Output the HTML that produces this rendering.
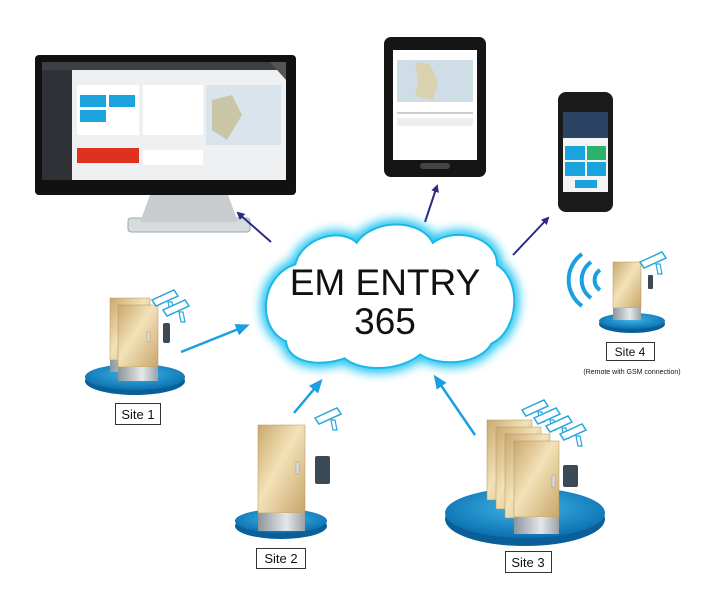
<!DOCTYPE html>
<html><head><meta charset="utf-8"><style>
body{margin:0;background:#fff;width:727px;height:613px;overflow:hidden}
svg{display:block}
text{font-family:"Liberation Sans",sans-serif}
</style></head><body>
<svg width="727" height="613" viewBox="0 0 727 613">
<defs>
<linearGradient id="door" x1="0" y1="0" x2="1" y2="1">
<stop offset="0" stop-color="#c9a86e"/><stop offset="0.45" stop-color="#f3e2b8"/><stop offset="1" stop-color="#c8a56a"/></linearGradient>
<linearGradient id="metal" x1="0" y1="0" x2="1" y2="0">
<stop offset="0" stop-color="#8d959c"/><stop offset="0.6" stop-color="#e4e8ea"/><stop offset="1" stop-color="#9aa2a8"/></linearGradient>
<radialGradient id="disk" cx="0.5" cy="0.4" r="0.6">
<stop offset="0" stop-color="#3fb6e8"/><stop offset="1" stop-color="#0a6fb0"/></radialGradient>
<filter id="glow" x="-20%" y="-20%" width="140%" height="140%"><feGaussianBlur stdDeviation="5"/></filter>
<marker id="an" markerWidth="8" markerHeight="8" refX="6" refY="4" orient="auto" markerUnits="userSpaceOnUse"><path d="M0,0 L8,4 L0,8 Z" fill="#2b2b86"/></marker>
<marker id="ab" markerWidth="14" markerHeight="12" refX="10" refY="6" orient="auto" markerUnits="userSpaceOnUse"><path d="M0,0 L14,6 L0,12 Z" fill="#1a9fe0"/></marker>
<g id="cam"><path d="M0,0 l22,-10 l4,6 l-22,10z" fill="#fff" stroke="#27a6dd" stroke-width="1.5"/><path d="M16,2 l2,10 l4,0 l-2,-10z" fill="#fff" stroke="#27a6dd" stroke-width="1.2"/></g>
</defs>

<!-- Monitor -->
<rect x="128" y="218" width="122" height="14" rx="3" fill="#d8dbdd" stroke="#9aa" stroke-width="1"/>
<path d="M150,195 L228,195 L238,222 L140,222 Z" fill="#c9cdd0"/>
<rect x="35" y="55" width="261" height="140" rx="4" fill="#111"/>
<rect x="42" y="62" width="244" height="118" fill="#eef0f2"/>
<rect x="42" y="62" width="244" height="8" fill="#3c3f44"/>
<rect x="42" y="70" width="30" height="110" fill="#2e3136"/>
<rect x="77" y="85" width="62" height="50" fill="#fff"/>
<rect x="80" y="95" width="26" height="12" fill="#1ba3dd"/><rect x="109" y="95" width="26" height="12" fill="#1ba3dd"/>
<rect x="80" y="110" width="26" height="12" fill="#1ba3dd"/>
<rect x="143" y="85" width="60" height="50" fill="#fff"/>
<rect x="206" y="85" width="75" height="60" fill="#d9e4ec"/>
<path d="M212,100 l20,-5 l10,20 l-15,25 l-15,-10z" fill="#c9c6a8"/>
<rect x="77" y="148" width="62" height="15" fill="#e0301e"/>
<rect x="143" y="150" width="60" height="15" fill="#fff"/>
<path d="M270,62 L286,62 L286,80 Z" fill="#555"/>
<!-- Tablet -->
<rect x="384" y="37" width="102" height="140" rx="7" fill="#151515"/>
<rect x="393" y="50" width="84" height="110" fill="#fff"/>
<rect x="397" y="60" width="76" height="42" fill="#cfdde6"/>
<path d="M415,62 l15,2 l8,18 l-5,18 l-18,-4 l3,-15z" fill="#d8d2b0"/>
<rect x="397" y="112" width="76" height="2" fill="#ccc"/>
<rect x="397" y="118" width="76" height="8" fill="#eee"/>
<rect x="420" y="163" width="30" height="6" rx="3" fill="#444"/>
<!-- Phone -->
<rect x="558" y="92" width="55" height="120" rx="8" fill="#1a1a1a"/>
<rect x="563" y="112" width="45" height="80" fill="#f4f4f4"/>
<rect x="563" y="112" width="45" height="26" fill="#2b4466"/>
<rect x="565" y="146" width="20" height="14" fill="#1ba3dd"/><rect x="587" y="146" width="19" height="14" fill="#2bb36b"/>
<rect x="565" y="162" width="20" height="14" fill="#1ba3dd"/><rect x="587" y="162" width="19" height="14" fill="#1ba3dd"/>
<rect x="575" y="180" width="22" height="8" fill="#1ba3dd"/>

<!-- navy arrows -->
<line x1="271" y1="242" x2="238" y2="213" stroke="#2b2b86" stroke-width="2" marker-end="url(#an)"/>
<line x1="425" y1="222" x2="437" y2="186" stroke="#2b2b86" stroke-width="2" marker-end="url(#an)"/>
<line x1="513" y1="255" x2="548" y2="218" stroke="#2b2b86" stroke-width="2" marker-end="url(#an)"/>

<!-- Cloud -->
<path id="cl" d="M288,340 C258,328 262,276 297,266 C302,240 342,228 357,246 C372,220 422,220 432,246 C452,228 497,238 495,266 C522,282 515,332 490,342 C480,362 440,366 420,352 C400,370 360,370 345,356 C318,366 288,360 288,340 Z" fill="#fff" stroke="#19c2f0" stroke-width="14" filter="url(#glow)"/>
<path d="M288,340 C258,328 262,276 297,266 C302,240 342,228 357,246 C372,220 422,220 432,246 C452,228 497,238 495,266 C522,282 515,332 490,342 C480,362 440,366 420,352 C400,370 360,370 345,356 C318,366 288,360 288,340 Z" fill="#fff" stroke="#1ab8ea" stroke-width="6"/>
<path d="M288,340 C258,328 262,276 297,266 C302,240 342,228 357,246 C372,220 422,220 432,246 C452,228 497,238 495,266 C522,282 515,332 490,342 C480,362 440,366 420,352 C400,370 360,370 345,356 C318,366 288,360 288,340 Z" fill="#fff" stroke="#fff" stroke-width="2"/>
<text x="385" y="295" font-size="37" text-anchor="middle" fill="#111">EM ENTRY</text>
<text x="385" y="334" font-size="37" text-anchor="middle" fill="#111">365</text>

<!-- blue arrows -->
<line x1="181" y1="352" x2="246" y2="326" stroke="#1a9fe0" stroke-width="2.5" marker-end="url(#ab)"/>
<line x1="294" y1="413" x2="320" y2="382" stroke="#1a9fe0" stroke-width="2.5" marker-end="url(#ab)"/>
<line x1="475" y1="435" x2="436" y2="378" stroke="#1a9fe0" stroke-width="2.5" marker-end="url(#ab)"/>

<!-- Site 1 -->
<ellipse cx="135" cy="381" rx="50" ry="14" fill="#0a5f98"/>
<ellipse cx="135" cy="377" rx="50" ry="13" fill="url(#disk)"/>
<rect x="110" y="298" width="40" height="62" fill="url(#door)" stroke="#b3945d" stroke-width=".5"/>
<rect x="110" y="360" width="40" height="12" fill="url(#metal)"/>
<rect x="118" y="305" width="40" height="62" fill="url(#door)" stroke="#b3945d" stroke-width=".5"/>
<rect x="118" y="367" width="40" height="14" fill="url(#metal)"/>
<rect x="147" y="332" width="3" height="10" fill="#ddd" stroke="#999" stroke-width=".5"/>
<rect x="163" y="323" width="7" height="20" rx="2" fill="#3c4a55"/>
<use href="#cam" x="152" y="300"/><use href="#cam" x="163" y="310"/>
<rect x="115.5" y="403.5" width="45" height="21" fill="#fff" stroke="#333"/>
<text x="138" y="419" font-size="13" text-anchor="middle" fill="#111">Site 1</text>

<!-- Site 2 -->
<ellipse cx="281" cy="526" rx="46" ry="13" fill="#0a5f98"/>
<ellipse cx="281" cy="521" rx="46" ry="12" fill="url(#disk)"/>
<rect x="258" y="425" width="47" height="88" fill="url(#door)" stroke="#b3945d" stroke-width=".5"/>
<rect x="258" y="513" width="47" height="18" fill="url(#metal)"/>
<rect x="296" y="462" width="3" height="12" fill="#ddd" stroke="#999" stroke-width=".5"/>
<rect x="315" y="456" width="15" height="28" rx="2" fill="#3c4a55"/>
<use href="#cam" x="315" y="418"/>
<rect x="256.5" y="548.5" width="49" height="20" fill="#fff" stroke="#333"/>
<text x="281" y="563" font-size="13" text-anchor="middle" fill="#111">Site 2</text>

<!-- Site 3 -->
<ellipse cx="525" cy="519" rx="80" ry="27" fill="#0a5f98"/>
<ellipse cx="525" cy="513" rx="80" ry="25" fill="url(#disk)"/>
<rect x="487" y="420" width="45" height="80" fill="url(#door)" stroke="#b3945d" stroke-width=".5"/>
<rect x="496" y="427" width="45" height="82" fill="url(#door)" stroke="#b3945d" stroke-width=".5"/>
<rect x="505" y="434" width="45" height="84" fill="url(#door)" stroke="#b3945d" stroke-width=".5"/>
<rect x="514" y="441" width="45" height="76" fill="url(#door)" stroke="#b3945d" stroke-width=".5"/>
<rect x="514" y="517" width="45" height="17" fill="url(#metal)"/>
<rect x="552" y="475" width="3" height="12" fill="#ddd" stroke="#999" stroke-width=".5"/>
<rect x="563" y="465" width="15" height="22" rx="2" fill="#3c4a55"/>
<use href="#cam" x="522" y="410"/><use href="#cam" x="534" y="418"/><use href="#cam" x="546" y="426"/><use href="#cam" x="560" y="434"/>
<rect x="505.5" y="551.5" width="46" height="21" fill="#fff" stroke="#333"/>
<text x="528" y="567" font-size="13" text-anchor="middle" fill="#111">Site 3</text>

<!-- Site 4 -->
<ellipse cx="632" cy="324" rx="33" ry="9" fill="#0a5f98"/>
<ellipse cx="632" cy="321" rx="33" ry="8" fill="url(#disk)"/>
<rect x="613" y="262" width="28" height="46" fill="url(#door)" stroke="#b3945d" stroke-width=".5"/>
<rect x="613" y="308" width="28" height="12" fill="url(#metal)"/>
<rect x="648" y="275" width="5" height="14" rx="1" fill="#3c4a55"/>
<use href="#cam" x="640" y="262"/>
<g fill="none" stroke="#1aa0e0" stroke-width="4">
<path d="M600,270 a12,12 0 0 0 0,20"/><path d="M591,262 a22,22 0 0 0 0,36"/><path d="M582,254 a32,32 0 0 0 0,52"/></g>
<rect x="606.5" y="342.5" width="48" height="18" fill="#fff" stroke="#333"/>
<text x="630" y="356" font-size="12" text-anchor="middle" fill="#111">Site 4</text>
<text x="632" y="374" font-size="7" text-anchor="middle" fill="#111">(Remote with GSM connection)</text>
</svg>
</body></html>
